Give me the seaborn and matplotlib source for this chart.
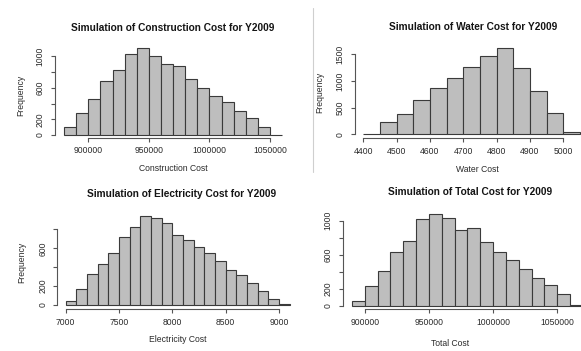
import numpy as np
import pandas as pd
import matplotlib
matplotlib.use("Agg")
import matplotlib.pyplot as plt
from matplotlib.lines import Line2D
import seaborn as sns

# ---------------- data ----------------
construction_start, construction_width = 880000, 10000
construction_counts = [100, 283, 463, 690, 823, 1037, 1114, 1003, 900, 883, 707,
                       604, 501, 420, 309, 219, 99, 4]
water_start, water_width = 4400, 50
water_counts = [12, 225, 375, 644, 862, 1050, 1269, 1469, 1619, 1244, 812, 394, 50]
electricity_start, electricity_width = 7000, 100
electricity_counts = [42, 168, 333, 432, 554, 716, 821, 944, 919, 867, 737, 684,
                      611, 554, 463, 368, 319, 235, 151, 67, 10]
total_start, total_width = 890000, 10000
total_counts = [51, 231, 407, 627, 757, 1020, 1078, 1031, 894, 914, 745, 627,
                533, 431, 329, 239, 133, 12]

construction_xticks = [900000, 950000, 1000000, 1050000]
water_xticks = [4400, 4500, 4600, 4700, 4800, 4900, 5000]
electricity_xticks = [7000, 7500, 8000, 8500, 9000]
total_xticks = [900000, 950000, 1000000, 1050000]
construction_yticks = [0, 200, 400, 600, 800, 1000]
construction_ylabels = ["0", "200", "", "600", "", "1000"]
water_yticks = [0, 500, 1000, 1500]
water_ylabels = ["0", "500", "1000", "1500"]
electricity_yticks = [0, 200, 400, 600, 800]
electricity_ylabels = ["0", "200", "", "600", ""]
total_yticks = [0, 200, 400, 600, 800, 1000]
total_ylabels = ["0", "200", "", "600", "", "1000"]

titles = ["Simulation of Construction Cost for Y2009",
          "Simulation of Water Cost for Y2009",
          "Simulation of Electricity Cost for Y2009",
          "Simulation of Total Cost for Y2009"]
xlabels = ["Construction Cost", "Water Cost", "Electricity Cost", "Total Cost"]

# ---------------- style ----------------
sns.set_theme(style="white")
plt.rcParams["font.family"] = ["Liberation Sans", "DejaVu Sans"]

W, H = 581, 351
fig = plt.figure(figsize=(W / 100, H / 100), dpi=100)
fig.patch.set_facecolor("white")

AX_COL = "#555555"
TXT_COL = "#2a2a2a"


def place(xcal, ycal, yspine_px, xspine_px, right_px, top_px):
    (xv1, xp1), (xv2, xp2) = xcal
    (yv1, yp1), (yv2, yp2) = ycal
    sx = (xp2 - xp1) / (xv2 - xv1)
    sy = (yp2 - yp1) / (yv2 - yv1)
    xl0 = xv1 + (yspine_px - xp1) / sx
    xl1 = xv1 + (right_px - xp1) / sx
    yl0 = yv1 + (xspine_px - yp1) / sy
    yl1 = yv1 + (top_px - yp1) / sy
    rect = [yspine_px / W, 1 - xspine_px / H,
            (right_px - yspine_px) / W, (xspine_px - top_px) / H]
    ax = fig.add_axes(rect)
    return ax, (xl0, xl1), (yl0, yl1)


panels = [
    dict(start=construction_start, width=construction_width, counts=construction_counts,
         xticks=construction_xticks, yticks=construction_yticks, ylabels=construction_ylabels,
         xcal=((900000, 88.3), (1050000, 270.0)), ycal=((0, 134.9), (1000, 56.5)),
         ys=55.0, xs=138.0, right=292, top=40,
         title=(173, 28), xlab=(173, 169), ylab=(21, 95)),
    dict(start=water_start, width=water_width, counts=water_counts,
         xticks=water_xticks, yticks=water_yticks, ylabels=water_ylabels,
         xcal=((4400, 363.3), (5000, 563.3)), ycal=((0, 134.3), (1500, 54.3)),
         ys=355.0, xs=138.3, right=590, top=40,
         title=(472.7, 27), xlab=(477, 169.3), ylab=(320, 92)),
    dict(start=electricity_start, width=electricity_width, counts=electricity_counts,
         xticks=electricity_xticks, yticks=electricity_yticks, ylabels=electricity_ylabels,
         xcal=((7000, 65.7), (9000, 279.0)), ycal=((0, 305.0), (800, 229.4)),
         ys=57.3, xs=309.3, right=292, top=210,
         title=(181.3, 194), xlab=(178, 339.3), ylab=(21.7, 262)),
    dict(start=total_start, width=total_width, counts=total_counts,
         xticks=total_xticks, yticks=total_yticks, ylabels=total_ylabels,
         xcal=((900000, 364.7), (1050000, 557.3)), ycal=((0, 305.7), (1000, 220.7)),
         ys=342.7, xs=309.3, right=590, top=210,
         title=(470, 192.3), xlab=(450, 343.3), ylab=None),
]

for p, title, xlabel in zip(panels, titles, xlabels):
    ax, xlim, ylim = place(p["xcal"], p["ycal"], p["ys"], p["xs"], p["right"], p["top"])
    counts = np.asarray(p["counts"], dtype=float)
    edges = p["start"] + p["width"] * np.arange(len(counts) + 1)
    centers = (edges[:-1] + edges[1:]) / 2
    df = pd.DataFrame({"value": centers, "count": counts})
    sns.histplot(data=df, x="value", weights="count", bins=list(edges), ax=ax,
                 color="#bebebe", edgecolor="#3a3a3a", linewidth=0.8, alpha=1.0)
    ax.set_xlim(*xlim)
    ax.set_ylim(*ylim)
    ax.set_facecolor("none")
    ax.set_xlabel("")
    ax.set_ylabel("")
    for s in ["top", "right"]:
        ax.spines[s].set_visible(False)
    for s in ["left", "bottom"]:
        ax.spines[s].set_color(AX_COL)
        ax.spines[s].set_linewidth(0.8)
    ax.spines["bottom"].set_bounds(p["xticks"][0], p["xticks"][-1])
    ax.spines["left"].set_bounds(p["yticks"][0], p["yticks"][-1])
    ax.set_xticks(p["xticks"])
    ax.set_xticklabels([str(v) for v in p["xticks"]])
    ax.set_yticks(p["yticks"])
    ax.set_yticklabels(p["ylabels"], rotation=90, va="center")
    ax.tick_params(axis="both", which="major", direction="out", length=3.0, width=0.8,
                   color=AX_COL, labelsize=6.2, labelcolor=TXT_COL,
                   bottom=True, left=True)
    ax.tick_params(axis="x", pad=3.0)
    ax.tick_params(axis="y", pad=4.3)
    ax.grid(False)

    tx, ty = p["title"]
    fig.text(tx / W, 1 - ty / H, title, ha="center", va="center",
             fontsize=7.3, fontweight="bold", color="#151515")
    lx, ly = p["xlab"]
    fig.text(lx / W, 1 - ly / H, xlabel, ha="center", va="center",
             fontsize=6.2, color=TXT_COL)
    if p["ylab"] is not None:
        yx, yy = p["ylab"]
        fig.text(yx / W, 1 - yy / H, "Frequency", ha="center", va="center",
                 rotation=90, fontsize=6.2, color=TXT_COL)

# thin separator between the two upper images
fig.add_artist(Line2D([313 / W, 313 / W], [1 - 8 / H, 1 - 172 / H],
                      color="#cfcfcf", linewidth=0.8))

fig.savefig("out.png", dpi=100, facecolor="white")
